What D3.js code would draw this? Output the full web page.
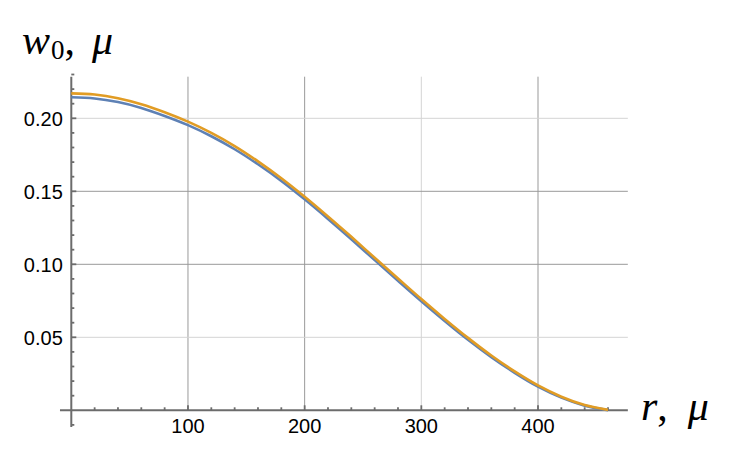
<!DOCTYPE html>
<html><head><meta charset="utf-8">
<script src="https://cdn.jsdelivr.net/npm/d3@7/dist/d3.min.js"></script>
<style>body{margin:0;background:#fff}svg{display:block}</style>
</head><body>
<svg id="c" width="731" height="451"></svg>
<script>
// ---- data ----
const radius = [0,20,40,60,80,100,120,140,160,180,200,220,240,260,280,300,320,340,360,380,400,420,440,460];
const seriesBlue = [0.2144,0.2136,0.2111,0.2071,0.2016,0.1953,0.1877,0.1788,0.1685,0.1571,0.1445,0.1311,0.1172,0.1029,0.0887,0.0747,0.0612,0.0483,0.0364,0.0257,0.0162,0.0087,0.0032,0.0001];
const seriesOrange = [0.2171,0.2163,0.2138,0.2097,0.2042,0.1977,0.1900,0.1810,0.1705,0.1589,0.1462,0.1327,0.1188,0.1045,0.0903,0.0762,0.0626,0.0496,0.0375,0.0266,0.0170,0.0093,0.0036,0.0003];
const xTicks = [100,200,300,400];
const xTickLabels = ["100","200","300","400"];
const yTicks = [0.05,0.10,0.15,0.20];
const yTickLabels = ["0.05","0.10","0.15","0.20"];
const xMinorTicks = [20,40,60,80,120,140,160,180,220,240,260,280,320,340,360,380,420,440,460];
const yMinorTicks = [-0.01,0.01,0.02,0.03,0.04,0.06,0.07,0.08,0.09,0.11,0.12,0.13,0.14,0.16,0.17,0.18,0.19,0.21,0.22,0.23];
const xRange = [-9.7, 477];
const yRange = [-0.0115, 0.2285];
const lightGridX = [300];
const lightGridY = [0.05, 0.20];

// ---- scales ----
const svg = d3.select("#c");
const x = d3.scaleLinear().domain([0,400]).range([71.3,538]);
const y = d3.scaleLinear().domain([0,0.2]).range([410.3,118.3]);
const axisColor = "#6c6c6c";

// grid lines
const g = svg.append("g");
g.selectAll(".gx").data(xTicks).join("line")
  .attr("x1", d=>x(d)).attr("x2", d=>x(d))
  .attr("y1", y(0)).attr("y2", y(yRange[1]))
  .attr("stroke", d=> lightGridX.includes(d) ? "#d4d4d4" : "#999999").attr("stroke-width",1);
g.selectAll(".gy").data(yTicks).join("line")
  .attr("y1", d=>y(d)).attr("y2", d=>y(d))
  .attr("x1", x(0)).attr("x2", x(xRange[1]))
  .attr("stroke", d=> lightGridY.includes(d) ? "#d4d4d4" : "#999999").attr("stroke-width",1);

// axes lines
const ax = svg.append("g");
ax.append("line").attr("x1",x(xRange[0])).attr("x2",x(xRange[1])).attr("y1",y(0)).attr("y2",y(0))
  .attr("stroke",axisColor).attr("stroke-width",2);
ax.append("line").attr("x1",x(0)).attr("x2",x(0)).attr("y1",y(yRange[0])).attr("y2",y(yRange[1]))
  .attr("stroke",axisColor).attr("stroke-width",2);

// ticks
ax.selectAll(".xmaj").data(xTicks).join("line")
  .attr("x1",d=>x(d)).attr("x2",d=>x(d)).attr("y1",y(0)).attr("y2",y(0)-5)
  .attr("stroke",axisColor).attr("stroke-width",1.8);
ax.selectAll(".xmin").data(xMinorTicks).join("line")
  .attr("x1",d=>x(d)).attr("x2",d=>x(d)).attr("y1",y(0)).attr("y2",y(0)-3)
  .attr("stroke",axisColor).attr("stroke-width",1.8);
ax.selectAll(".ymaj").data(yTicks).join("line")
  .attr("y1",d=>y(d)).attr("y2",d=>y(d)).attr("x1",x(0)).attr("x2",x(0)+5)
  .attr("stroke",axisColor).attr("stroke-width",1.8);
ax.selectAll(".ymin").data(yMinorTicks).join("line")
  .attr("y1",d=>y(d)).attr("y2",d=>y(d)).attr("x1",x(0)).attr("x2",x(0)+3)
  .attr("stroke",axisColor).attr("stroke-width",1.8);

// tick labels
const tickFont = "'Liberation Sans', Arial, sans-serif";
ax.selectAll(".xl").data(xTicks).join("text")
  .attr("x",d=>x(d)).attr("y",y(0)+23)
  .attr("text-anchor","middle").attr("font-family",tickFont).attr("font-size",20).attr("fill","#000")
  .text((d,i)=>xTickLabels[i]);
ax.selectAll(".yl").data(yTicks).join("text")
  .attr("x",x(0)-8.5).attr("y",d=>y(d)).attr("dy","0.36em")
  .attr("text-anchor","end").attr("font-family",tickFont).attr("font-size",20).attr("fill","#000")
  .text((d,i)=>yTickLabels[i]);

// curves
const pts = s => radius.map((r,i)=>[r,s[i]]);
const line = d3.line().x(d=>x(d[0])).y(d=>y(d[1])).curve(d3.curveMonotoneX);
svg.append("path").attr("d",line(pts(seriesBlue))).attr("fill","none")
  .attr("stroke","#5e81b5").attr("stroke-width",2.6);
svg.append("path").attr("d",line(pts(seriesOrange))).attr("fill","none")
  .attr("stroke","#e19c24").attr("stroke-width",2.6);

// axis labels
const serif = "'Liberation Serif', 'Times New Roman', serif";
const yl = svg.append("text").attr("x",22).attr("y",54).attr("font-family",serif).attr("font-size",42).attr("fill","#000");
yl.append("tspan").attr("font-style","italic").text("w");
yl.append("tspan").attr("font-size",27).attr("dy",5).attr("dx",1).text("0");
yl.append("tspan").attr("dy",-5).text(",");
yl.append("tspan").attr("font-style","italic").attr("dx",17).text("μ");

const xl = svg.append("text").attr("x",641).attr("y",420).attr("font-family",serif).attr("font-size",42).attr("fill","#000");
xl.append("tspan").attr("font-style","italic").text("r");
xl.append("tspan").text(",");
xl.append("tspan").attr("font-style","italic").attr("dx",20).text("μ");
</script>
</body></html>
